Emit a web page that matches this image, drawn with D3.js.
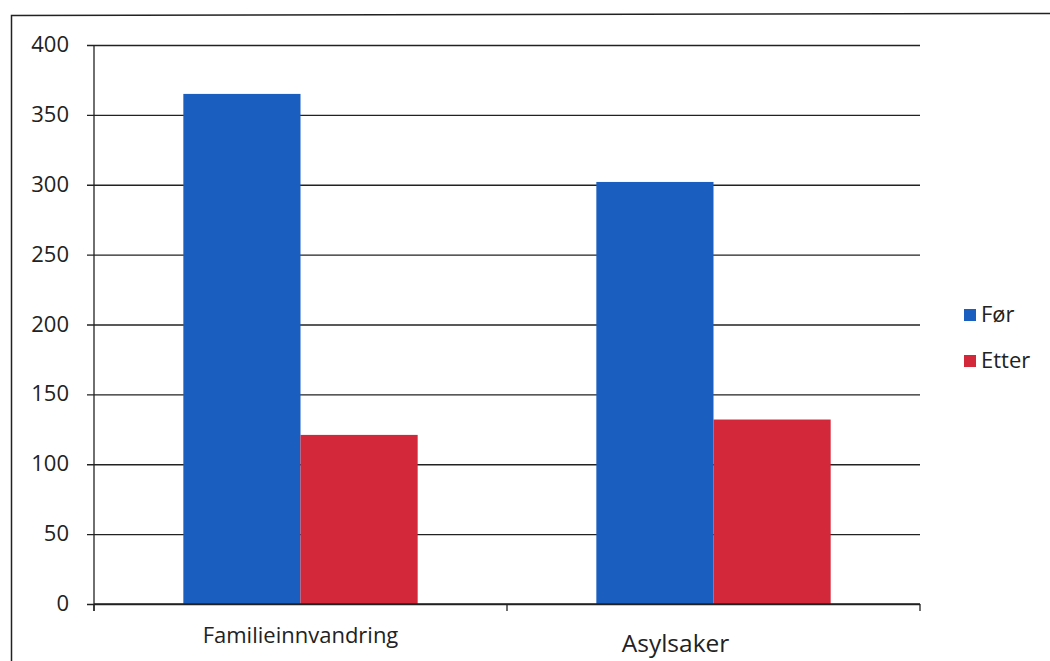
<!DOCTYPE html>
<html>
<head>
<meta charset="utf-8">
<script src="https://cdn.jsdelivr.net/npm/d3@7"></script>
<style>
  html, body { margin: 0; padding: 0; background: #fff; }
  svg { display: block; font-family: "Open Sans", sans-serif; }
</style>
</head>
<body>
<svg id="chart" width="1050" height="661"></svg>
<script>
// Cases handled, before and after
const categories = ["Familieinnvandring", "Asylsaker"];
const seriesNames = ["Før", "Etter"];
const forValues = [365, 302];
const etterValues = [121, 132];
const seriesColors = ["#1a5fbf", "#d2283a"];
const yTicks = [0, 50, 100, 150, 200, 250, 300, 350, 400];

const svg = d3.select("#chart");
const FONT = "'Open Sans', sans-serif";

// outer frame (left and top edges)
svg.append("path")
  .attr("d", "M11.5,661 L11.5,15.5 L1050,13.5")
  .attr("fill", "none").attr("stroke", "#222").attr("stroke-width", 1.5);

const plot = { left: 94, right: 920, top: 45, bottom: 604 };

const x0 = d3.scaleBand().domain(categories).range([plot.left, plot.right]).paddingInner(0).paddingOuter(0);
const x1 = d3.scaleBand().domain(seriesNames).range([0, x0.bandwidth()]).paddingInner(0).paddingOuter(0.7625);
const y = d3.scaleLinear().domain([0, 400]).range([plot.bottom, plot.top]);

// horizontal gridlines with left tick marks
const yAxis = d3.axisLeft(y).tickValues(yTicks).tickSize(-(plot.right - plot.left)).tickSizeOuter(0);
const gy = svg.append("g").attr("transform", `translate(${plot.left},0)`).call(yAxis);
gy.select(".domain").remove();
gy.selectAll(".tick line").attr("stroke", "#222").attr("stroke-width", 1.3).attr("x1", -7);
gy.selectAll(".tick text").attr("font-size", 22).attr("fill", "#222")
  .attr("font-family", FONT).attr("x", -25).attr("dy", "0.3em");

// vertical axis line
svg.append("line").attr("x1", plot.left).attr("x2", plot.left)
  .attr("y1", plot.top).attr("y2", plot.bottom + 7)
  .attr("stroke", "#222").attr("stroke-width", 1.3);

// bars
const rows = categories.map((c, i) => ({ cat: c, vals: [forValues[i], etterValues[i]] }));
const groups = svg.append("g").selectAll("g").data(rows).join("g")
  .attr("transform", d => `translate(${x0(d.cat)},0)`);
groups.selectAll("rect").data(d => d.vals.map((v, j) => ({ key: seriesNames[j], v, j })))
  .join("rect")
  .attr("x", d => x1(d.key))
  .attr("width", x1.bandwidth())
  .attr("y", d => y(d.v))
  .attr("height", d => y(0) - y(d.v))
  .attr("fill", d => seriesColors[d.j]);

// x axis baseline and category ticks
svg.append("line").attr("x1", plot.left).attr("x2", plot.right)
  .attr("y1", plot.bottom).attr("y2", plot.bottom)
  .attr("stroke", "#222").attr("stroke-width", 1.3);
const xTickPos = [plot.left, ...categories.map(c => x0(c) + x0.bandwidth())];
svg.append("g").selectAll("line").data(xTickPos).join("line")
  .attr("x1", d => d).attr("x2", d => d)
  .attr("y1", plot.bottom).attr("y2", plot.bottom + 7)
  .attr("stroke", "#222").attr("stroke-width", 1.3);

// category labels
svg.append("text").attr("x", x0(categories[0]) + x0.bandwidth() / 2).attr("y", 643)
  .attr("text-anchor", "middle").attr("font-size", 22).attr("fill", "#222").text(categories[0]);
svg.append("text").attr("x", x0(categories[1]) + x0.bandwidth() / 2 - 38).attr("y", 652)
  .attr("text-anchor", "middle").attr("font-size", 24.5).attr("fill", "#222").text(categories[1]);

// legend
const legend = svg.append("g").selectAll("g").data(seriesNames).join("g")
  .attr("transform", (d, i) => `translate(964,${309 + i * 46})`);
legend.append("rect").attr("width", 12).attr("height", 12).attr("fill", (d, i) => seriesColors[i]);
legend.append("text").attr("x", 17).attr("y", 13).attr("font-size", 22).attr("fill", "#222").text(d => d);
</script>
</body>
</html>
